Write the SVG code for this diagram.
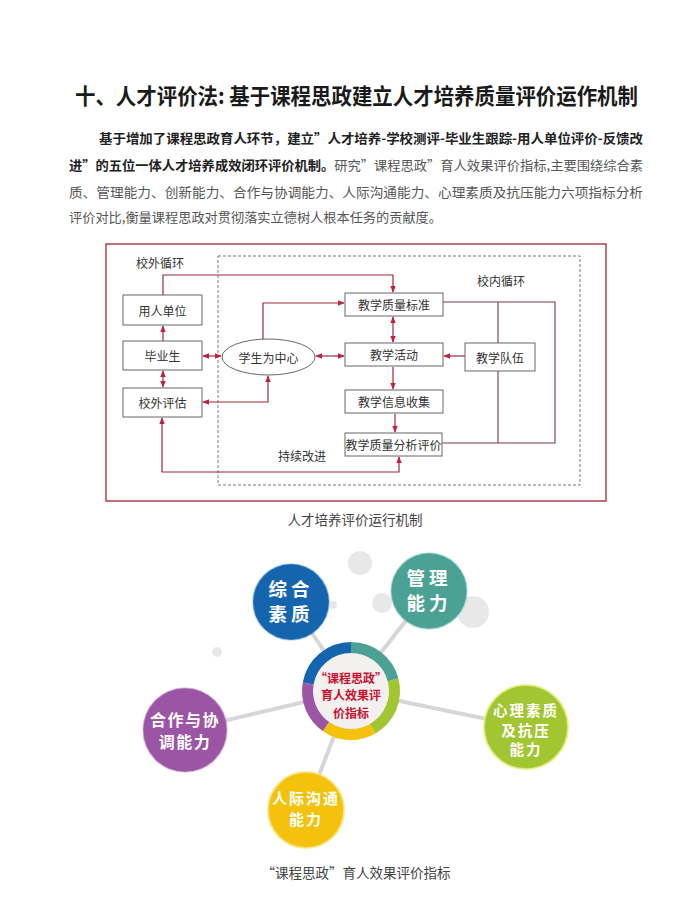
<svg xmlns="http://www.w3.org/2000/svg" width="691" height="915" viewBox="0 0 691 915">
<style>
text{font-family:"Noto Sans CJK SC","Noto Sans",sans-serif;}
.ttl{font-size:22px;font-weight:bold;fill:#1a1a1a;}
.pb{font-size:13px;font-weight:bold;fill:#222;}
.pr{font-size:13px;fill:#555;}
.box{fill:#fff;stroke:#666;stroke-width:1;}
.nt{font-size:12px;fill:#333;text-anchor:middle;dominant-baseline:central;}
.lbl{font-size:12px;fill:#333;text-anchor:middle;}
.cn{fill:none;stroke:#9a2a3c;stroke-width:1.2;}
.cg{fill:none;stroke:#7a3a44;stroke-width:1.1;}
.spoke{stroke:#d6d6d6;stroke-width:4;}
.dot{fill:#e8e8e8;}
.ct{font-weight:bold;fill:#fff;text-anchor:middle;}
.hub{font-size:12px;font-weight:bold;fill:#c8102e;text-anchor:middle;}
.cap{font-size:13.5px;fill:#444;text-anchor:middle;}
.ring{fill:none;stroke-width:11;}
</style>
<defs>
<marker id="ah" viewBox="0 0 10 10" refX="9" refY="5" markerWidth="7" markerHeight="7" orient="auto-start-reverse" markerUnits="userSpaceOnUse">
<path d="M0,1 L10,5 L0,9 z" fill="#c0203a"/>
</marker>
</defs>
<rect width="691" height="915" fill="#fff"/>

<g id="title">
<text class="ttl" x="75" y="104" textLength="563" lengthAdjust="spacingAndGlyphs">十、人才评价法: 基于课程思政建立人才培养质量评价运作机制</text>
</g>
<g id="paragraph">
<text class="pb" x="99" y="142.5" textLength="544" lengthAdjust="spacingAndGlyphs">基于增加了课程思政育人环节，建立”人才培养-学校测评-毕业生跟踪-用人单位评价-反馈改</text>
<text x="69" y="169.5" textLength="574" lengthAdjust="spacingAndGlyphs"><tspan class="pb">进”的五位一体人才培养成效闭环评价机制。</tspan><tspan class="pr">研究”课程思政”育人效果评价指标,主要围绕综合素</tspan></text>
<text class="pr" x="69" y="196.5" textLength="574" lengthAdjust="spacingAndGlyphs">质、管理能力、创新能力、合作与协调能力、人际沟通能力、心理素质及抗压能力六项指标分析</text>
<text class="pr" x="69" y="221.5" textLength="373" lengthAdjust="spacingAndGlyphs">评价对比,衡量课程思政对贯彻落实立德树人根本任务的贡献度。</text>
</g>

<g id="frame">
<rect x="106" y="244" width="500" height="257" fill="none" stroke="#a84050" stroke-width="1.5"/>
<rect x="218" y="256" width="362" height="229" fill="none" stroke="#777" stroke-width="1" stroke-dasharray="3,2"/>
<text class="lbl" x="160" y="268">校外循环</text>
<text class="lbl" x="501" y="286">校内循环</text>
<text class="lbl" x="302" y="461">持续改进</text>
</g>

<g id="connectors">
<path class="cn" d="M163,295 V275 H393 V292" marker-end="url(#ah)"/>
<path class="cn" d="M263,339 V303 H344" marker-end="url(#ah)"/>
<path class="cn" d="M203,356 H221" marker-start="url(#ah)" marker-end="url(#ah)"/>
<path class="cn" d="M316,356 H344" marker-start="url(#ah)" marker-end="url(#ah)"/>
<path class="cn" d="M163,341 V326" marker-end="url(#ah)"/>
<path class="cn" d="M163,371 V387" marker-start="url(#ah)" marker-end="url(#ah)"/>
<path class="cn" d="M203,402 H268 V376" marker-start="url(#ah)" marker-end="url(#ah)"/>
<path class="cn" d="M162,418 V472 H399 V457" marker-start="url(#ah)" marker-end="url(#ah)"/>
<path class="cn" d="M393,317 V342" marker-start="url(#ah)" marker-end="url(#ah)"/>
<path class="cn" d="M393,367 V389" marker-end="url(#ah)"/>
<path class="cn" d="M395,414 V432" marker-end="url(#ah)"/>
<path class="cn" d="M465,356 H444" marker-end="url(#ah)"/>
<path class="cg" d="M443,302 H555 V443 H442"/>
<path class="cg" d="M498,302 V343"/>
<path class="cg" d="M498,371 V443"/>
</g>

<g id="n-yongren"><rect class="box" x="123" y="295" width="79" height="30"/><text class="nt" x="162.5" y="310">用人单位</text></g>
<g id="n-biye"><rect class="box" x="123" y="341" width="79" height="29"/><text class="nt" x="162.5" y="355.5">毕业生</text></g>
<g id="n-xiaowai"><rect class="box" x="123" y="388" width="79" height="29"/><text class="nt" x="162.5" y="402.5">校外评估</text></g>
<g id="n-center"><ellipse class="box" cx="268.5" cy="357" rx="46.5" ry="18"/><text class="nt" x="268.5" y="357">学生为中心</text></g>
<g id="n-biaozhun"><rect class="box" x="345" y="293" width="98" height="23"/><text class="nt" x="394" y="304.5">教学质量标准</text></g>
<g id="n-huodong"><rect class="box" x="345" y="343" width="98" height="23"/><text class="nt" x="394" y="354.5">教学活动</text></g>
<g id="n-xinxi"><rect class="box" x="345" y="390" width="98" height="23"/><text class="nt" x="394" y="401.5">教学信息收集</text></g>
<g id="n-fenxi"><rect class="box" x="345" y="433" width="97" height="23"/><text class="nt" x="393.5" y="444.5" font-size="11.5">教学质量分析评价</text></g>
<g id="n-duiwu"><rect class="box" x="465" y="343" width="70" height="28"/><text class="nt" x="500" y="357">教学队伍</text></g>

<g id="caption1"><text class="cap" x="355" y="525">人才培养评价运行机制</text></g>

<g id="decor">
<circle class="dot" cx="360" cy="563" r="12"/>
<circle class="dot" cx="382" cy="603" r="10"/>
<circle class="dot" cx="473" cy="612" r="16"/>
<circle class="dot" cx="217" cy="652" r="5"/>
<circle class="dot" cx="333" cy="605" r="4"/>
</g>

<g id="spokes">
<line class="spoke" x1="351" y1="691" x2="291" y2="602"/>
<line class="spoke" x1="351" y1="691" x2="429" y2="591"/>
<line class="spoke" x1="351" y1="691" x2="185" y2="730"/>
<line class="spoke" x1="351" y1="691" x2="526" y2="727"/>
<line class="spoke" x1="351" y1="691" x2="306" y2="810"/>
</g>

<g id="c-zonghe"><circle cx="291" cy="602" r="38" fill="#1565ae" stroke="#4f8fd0" stroke-opacity="0.4" stroke-width="1.5"/>
<text class="ct" x="291" y="596" font-size="18.5" letter-spacing="4">综合</text><text class="ct" x="291" y="621" font-size="18.5" letter-spacing="4">素质</text></g>
<g id="c-guanli"><circle cx="429" cy="591" r="38" fill="#4ba294" stroke="#8ad0c2" stroke-opacity="0.5" stroke-width="1.5"/>
<text class="ct" x="429" y="585" font-size="18.5" letter-spacing="4">管理</text><text class="ct" x="429" y="610" font-size="18.5" letter-spacing="4">能力</text></g>
<g id="c-hezuo"><circle cx="185" cy="730" r="42" fill="#9c55a5" stroke="#c79ace" stroke-opacity="0.5" stroke-width="1.5"/>
<text class="ct" x="185" y="726" font-size="16" letter-spacing="1.5">合作与协</text><text class="ct" x="185" y="748" font-size="16" letter-spacing="1.5">调能力</text></g>
<g id="c-xinli"><circle cx="526" cy="727" r="42" fill="#a2c631" stroke="#e4f07a" stroke-opacity="0.8" stroke-width="2"/>
<text class="ct" x="526" y="716" font-size="14.5" letter-spacing="2">心理素质</text><text class="ct" x="526" y="735.5" font-size="14.5" letter-spacing="2">及抗压</text><text class="ct" x="526" y="755" font-size="14.5" letter-spacing="2">能力</text></g>
<g id="c-renji"><circle cx="306" cy="810" r="38" fill="#f4c20d" stroke="#fbe27a" stroke-opacity="0.8" stroke-width="2"/>
<text class="ct" x="306" y="804" font-size="15" letter-spacing="2">人际沟通</text><text class="ct" x="306" y="825" font-size="15" letter-spacing="2">能力</text></g>

<g id="c-hub">
<circle cx="351" cy="691" r="40" fill="#f3f0f0"/>
<path class="ring" stroke="#1565ae" d="M351,647.5 A43.5,43.5 0 0 0 308.16,683.45"/>
<path class="ring" stroke="#9c55a5" d="M308.16,683.45 A43.5,43.5 0 0 0 326.05,726.63"/>
<path class="ring" stroke="#f4c20d" d="M326.05,726.63 A43.5,43.5 0 0 0 372.75,728.67"/>
<path class="ring" stroke="#a2c631" d="M372.75,728.67 A43.5,43.5 0 0 0 393.02,679.74"/>
<path class="ring" stroke="#4ba294" d="M393.02,679.74 A43.5,43.5 0 0 0 351,647.5"/>
<text class="hub" x="351" y="682.5">“课程思政”</text>
<text class="hub" x="351" y="700">育人效果评</text>
<text class="hub" x="351" y="717.5">价指标</text>
</g>

<g id="caption2"><text class="cap" x="356" y="878">“课程思政”育人效果评价指标</text></g>
</svg>
